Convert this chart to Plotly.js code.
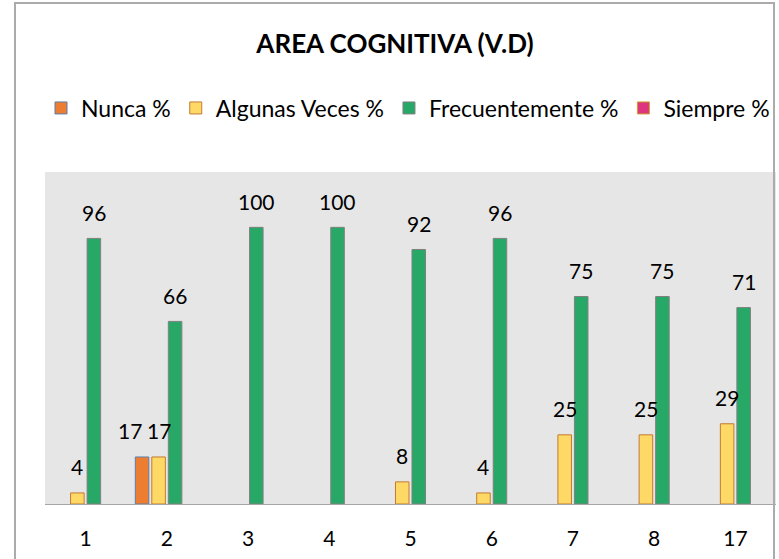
<!DOCTYPE html>
<html>
<head>
<meta charset="utf-8">
<script src="https://cdn.plot.ly/plotly-3.0.1.min.js"></script>
<style>
  html, body { margin: 0; padding: 0; background: #ffffff; }
  #wrap { position: relative; width: 779px; height: 559px; overflow: hidden; }
  #chart { position: absolute; left: 0; top: 0; width: 779px; height: 559px; }
  #frame { position: absolute; left: 14px; top: 2px; width: 761px; height: 620px;
           border: 2px solid #ABABAB; pointer-events: none; box-sizing: border-box; }
</style>
</head>
<body>
<div id="wrap">
  <div id="chart"></div>
  <div id="frame"></div>
</div>
<script>
// ---- data ----
const categories = ['1', '2', '3', '4', '5', '6', '7', '8', '17'];
const nunca      = [0, 17, 0, 0, 0, 0, 0, 0, 0];
const algunas    = [4, 17, 0, 0, 8, 4, 25, 25, 29];
const frecuente  = [96, 66, 100, 100, 92, 96, 75, 75, 71];
const siempre    = [0, 0, 0, 0, 0, 0, 0, 0, 0];
const seriesNames = ['Nunca %', 'Algunas Veces %', 'Frecuentemente %', 'Siempre %'];

// ---- styles ----
const FONT = 'Lato, "Open Sans", sans-serif';
const fills = ['#ED7D31', '#FFD966', '#28A866', '#DD3580'];
const lines = ['#5B7FAE', '#C27A32', '#808080', '#C9A227'];
const labelXShift = [-12, 0, 0, 0];
const BARGAP = 0.187, BARGROUPGAP = 0.18;

const seriesValues = [nunca, algunas, frecuente, siempre];

// zero values are not drawn (no bar, no label), as in the reference
const traces = seriesValues.map((vals, k) => ({
  type: 'bar',
  name: seriesNames[k],
  x: categories,
  y: vals.map(v => (v === 0 ? null : v)),
  marker: { color: fills[k], line: { color: lines[k], width: 1 } },
  hoverinfo: 'x+y+name'
}));

// data labels (nonzero values only), positioned via the category scale
const nSeries = seriesValues.length;
const slot = (1 - BARGAP) / nSeries;
const annotations = [];
seriesValues.forEach((vals, k) => {
  const off = (k - (nSeries - 1) / 2) * slot;
  vals.forEach((v, i) => {
    if (v > 0) {
      annotations.push({
        x: i + off, y: v, xref: 'x', yref: 'y',
        text: String(v), showarrow: false,
        xanchor: 'center', yanchor: 'middle',
        yshift: 26, xshift: labelXShift[k],
        font: { family: FONT, size: 21, color: '#000000' }
      });
    }
  });
});

const layout = {
  width: 779, height: 559,
  margin: { l: 45, r: 3, t: 172, b: 55, pad: 0 },
  paper_bgcolor: '#ffffff',
  plot_bgcolor: '#E6E6E6',
  font: { family: FONT, size: 21, color: '#000000' },
  title: {
    text: '<b>AREA COGNITIVA (V.D)</b>',
    font: { family: FONT, size: 26, color: '#000000' },
    xref: 'container', yref: 'container',
    x: 395 / 779, y: 1 - 44 / 559, xanchor: 'center', yanchor: 'middle'
  },
  showlegend: true,
  legend: {
    orientation: 'h',
    xref: 'container', yref: 'container',
    x: 408 / 779, y: 1 - 108 / 559, xanchor: 'center', yanchor: 'middle',
    font: { family: FONT, size: 23, color: '#000000' },
    bgcolor: 'rgba(0,0,0,0)',
    itemwidth: 30,
    itemclick: false, itemdoubleclick: false,
    traceorder: 'normal'
  },
  barmode: 'group',
  bargap: BARGAP,
  bargroupgap: BARGROUPGAP,
  xaxis: {
    type: 'category',
    showgrid: false, zeroline: false,
    showline: true, linecolor: '#A6A6A6', linewidth: 1,
    ticks: '', ticklabelstandoff: 16,
    tickfont: { family: FONT, size: 21, color: '#000000' },
    fixedrange: true
  },
  yaxis: {
    range: [0, 120],
    showgrid: false, zeroline: false, showline: false,
    showticklabels: false, ticks: '',
    fixedrange: true
  },
  annotations: annotations
};

Plotly.newPlot('chart', traces, layout, { displayModeBar: false, staticPlot: true });
</script>
</body>
</html>
